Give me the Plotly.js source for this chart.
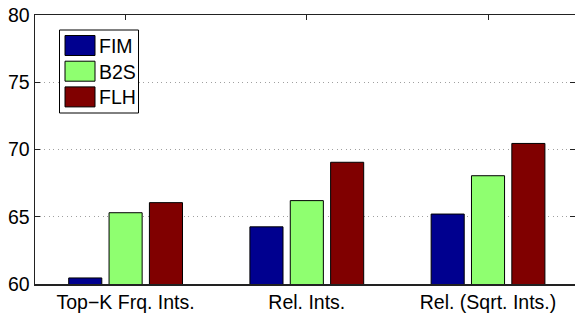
<!DOCTYPE html>
<html>
<head>
<meta charset="utf-8">
<script src="https://cdn.plot.ly/plotly-3.0.1.min.js"></script>
<style>html,body{margin:0;padding:0;background:#fff;}#chart{width:575px;height:314px;}</style>
</head>
<body>
<div id="chart"></div>
<script>
const categories = ["Top\u2212K Frq. Ints.", "Rel. Ints.", "Rel. (Sqrt. Ints.)"];
const seriesNames = ["FIM", "B2S", "FLH"];
const fimValues = [60.45, 64.25, 65.2];
const b2sValues = [65.3, 66.2, 68.05];
const flhValues = [66.05, 69.05, 70.45];
const yTickValues = [60, 65, 70, 75, 80];
const yTickLabels = ["60", "65", "70", "75", "80"];

const colors = ["#00008f", "#8fff70", "#800000"];
const allValues = [fimValues, b2sValues, flhValues];

const W = 575, H = 314;
const M = {l: 35, r: 0, t: 15, b: 30};
const PW = W - M.l - M.r, PH = H - M.t - M.b;
const px = x => (x - M.l) / PW;
const py = y => (H - M.b - y) / PH;

const traces = seriesNames.map((name, i) => ({
  type: "bar",
  name: name,
  x: categories,
  y: allValues[i],
  marker: {color: colors[i], line: {color: "#000", width: 1}},
  showlegend: false,
  hoverinfo: "skip"
}));

const FONT = {family: "Liberation Sans, Arial, Helvetica, sans-serif", size: 19.5, color: "#000"};

const shapes = [];
const annotations = [];
shapes.push({type: "rect", xref: "paper", yref: "paper",
  x0: px(59.5), x1: px(138.5), y0: py(30), y1: py(113),
  line: {color: "#000", width: 1}, fillcolor: "#fff", layer: "above"});
seriesNames.forEach((name, i) => {
  const top = 35.5 + i * 25.7;
  shapes.push({type: "rect", xref: "paper", yref: "paper",
    x0: px(65), x1: px(95), y0: py(top), y1: py(top + 20),
    line: {color: "#000", width: 1}, fillcolor: colors[i], layer: "above"});
  annotations.push({xref: "paper", yref: "paper", x: px(97), y: py(top + 10.5),
    xanchor: "left", yanchor: "middle", text: name, showarrow: false,
    font: FONT});
});

const layout = {
  width: W, height: H,
  margin: M,
  paper_bgcolor: "#fff", plot_bgcolor: "#fff",
  font: FONT,
  barmode: "group",
  bargap: 0.332,
  bargroupgap: 0.18,
  xaxis: {
    type: "category",
    range: [-0.5, 2.48],
    showline: true, linecolor: "#222", linewidth: 1.5, mirror: "allticks",
    ticks: "inside", ticklen: 5, tickcolor: "#222", tickwidth: 1,
    showgrid: false, zeroline: false,
    layer: "below traces",
    tickfont: FONT
  },
  yaxis: {
    range: [60, 80],
    tickvals: yTickValues, ticktext: yTickLabels,
    showline: true, linecolor: "#222", linewidth: 1.5, mirror: "allticks",
    ticks: "inside", ticklen: 5, tickcolor: "#222", tickwidth: 1,
    showgrid: true, gridcolor: "#a0a0a0", gridwidth: 1, griddash: "1px,3.5px",
    zeroline: false,
    layer: "below traces",
    tickfont: FONT
  },
  shapes: shapes,
  annotations: annotations
};

Plotly.newPlot("chart", traces, layout, {staticPlot: true, displayModeBar: false});
</script>
</body>
</html>
